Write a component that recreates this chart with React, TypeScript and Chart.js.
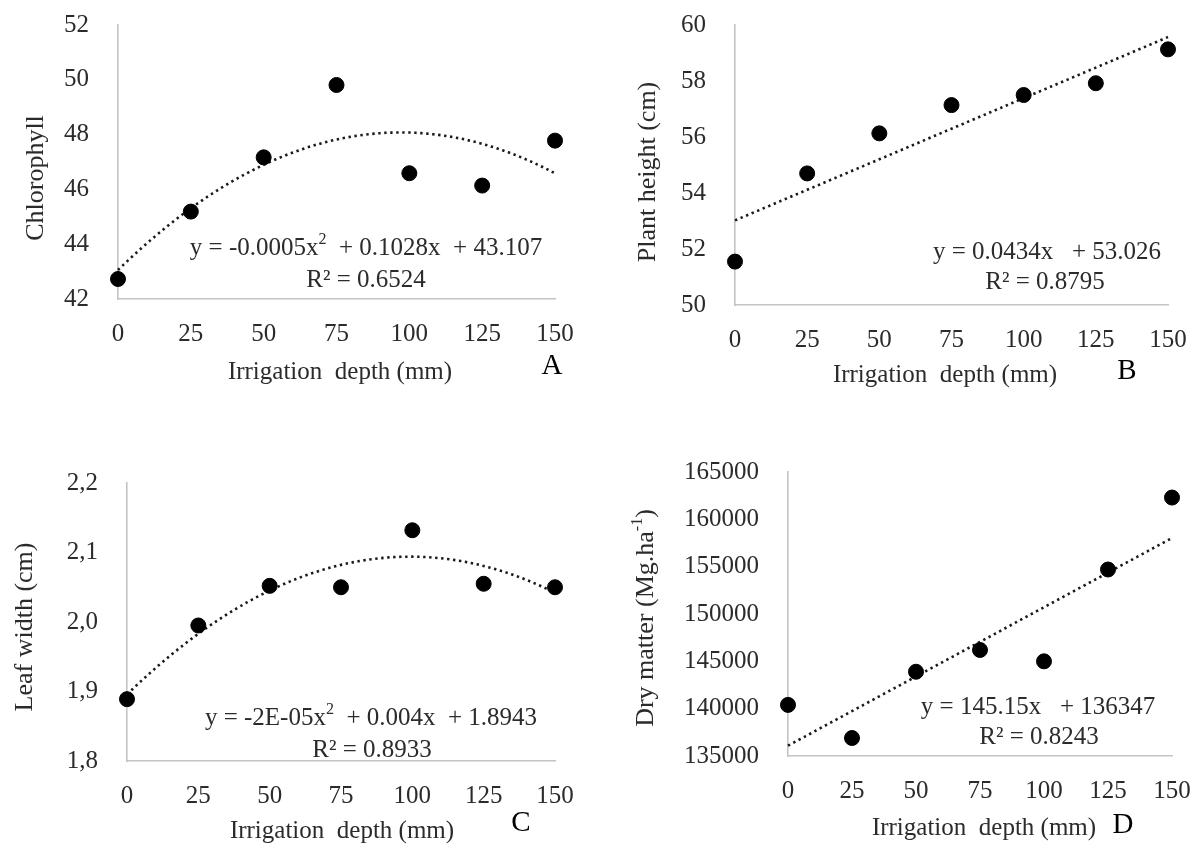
import React, { useEffect, useRef } from "react";
import { Chart, registerables } from "chart.js";

Chart.register(...registerables);

// ---------------- data ----------------
const depths = [0, 25, 50, 75, 100, 125, 150];
const xTicks = [0, 25, 50, 75, 100, 125, 150];

const chlorophyll = [42.73, 45.19, 47.17, 49.81, 46.59, 46.14, 47.78];
const plantHeight = [51.55, 54.7, 56.13, 57.14, 57.5, 57.92, 59.13];
const leafWidth = [1.889, 1.995, 2.052, 2.05, 2.132, 2.055, 2.05];
const dryMatter = [140400, 136900, 143900, 146200, 145000, 154700, 162300];

const yTicksA = [42, 44, 46, 48, 50, 52];
const yTicksB = [50, 52, 54, 56, 58, 60];
const yTicksC = [1.8, 1.9, 2.0, 2.1, 2.2];
const yTicksD = [135000, 140000, 145000, 150000, 155000, 160000, 165000];

const xTitle = "Irrigation  depth (mm)";
const yTitles = ["Chlorophyll", "Plant height (cm)", "Leaf width (cm)", "Dry matter (Mg.ha^{-1})"];
const letters = ["A", "B", "C", "D"];
const equations = [
  "y = -0.0005x^{2}  + 0.1028x  + 43.107",
  "y = 0.0434x   + 53.026",
  "y = -2E-05x^{2}  + 0.004x  + 1.8943",
  "y = 145.15x   + 136347",
];
const rSquared = ["R² = 0.6524", "R² = 0.8795", "R² = 0.8933", "R² = 0.8243"];
const trendDegrees = [2, 1, 2, 1];

// ---------------- helpers ----------------
const FONT = '"Liberation Serif", "Times New Roman", serif';

function polyFit(xs: number[], ys: number[], deg: number): number[] {
  const n = deg + 1;
  const A: number[][] = Array.from({ length: n }, () => new Array(n + 1).fill(0));
  for (let i = 0; i < xs.length; i++) {
    for (let r = 0; r < n; r++) {
      for (let c = 0; c < n; c++) A[r][c] += Math.pow(xs[i], r + c);
      A[r][n] += ys[i] * Math.pow(xs[i], r);
    }
  }
  for (let col = 0; col < n; col++) {
    let piv = col;
    for (let r = col + 1; r < n; r++) if (Math.abs(A[r][col]) > Math.abs(A[piv][col])) piv = r;
    [A[col], A[piv]] = [A[piv], A[col]];
    for (let r = 0; r < n; r++) {
      if (r === col) continue;
      const f = A[r][col] / A[col][col];
      for (let c = col; c <= n; c++) A[r][c] -= f * A[col][c];
    }
  }
  return A.map((row, i) => row[n] / A[i][i]);
}

function parseRich(s: string) {
  const parts: { t: string; sup: boolean }[] = [];
  const re = /\^\{([^}]*)\}/g;
  let last = 0;
  let m: RegExpExecArray | null;
  while ((m = re.exec(s))) {
    if (m.index > last) parts.push({ t: s.slice(last, m.index), sup: false });
    parts.push({ t: m[1], sup: true });
    last = re.lastIndex;
  }
  if (last < s.length) parts.push({ t: s.slice(last), sup: false });
  return parts;
}

function drawRich(
  ctx: CanvasRenderingContext2D,
  s: string,
  x: number,
  y: number,
  size: number,
  color: string,
  rotate = false
) {
  const parts = parseRich(s);
  const fN = `${size}px ${FONT}`;
  const fS = `${Math.round(size * 0.62)}px ${FONT}`;
  let w = 0;
  for (const p of parts) {
    ctx.font = p.sup ? fS : fN;
    w += ctx.measureText(p.t).width;
  }
  ctx.save();
  ctx.translate(x, y);
  if (rotate) ctx.rotate(-Math.PI / 2);
  ctx.fillStyle = color;
  ctx.textBaseline = "middle";
  ctx.textAlign = "left";
  let cx = -w / 2;
  for (const p of parts) {
    ctx.font = p.sup ? fS : fN;
    ctx.fillText(p.t, cx, p.sup ? -size * 0.33 : 0);
    cx += ctx.measureText(p.t).width;
  }
  ctx.restore();
}

// ---------------- layout (page coordinates) ----------------
type Panel = {
  box: { left: number; top: number; w: number; h: number };
  area: { l: number; t: number; r: number; b: number };
  values: number[];
  yTicks: number[];
  fmt: (v: number) => string;
  yTitlePos: [number, number];
  xTitlePos: [number, number];
  letterPos: [number, number];
  eqPos: [number, number];
  r2Pos: [number, number];
};

const panels: Panel[] = [
  {
    box: { left: 0, top: 0, w: 598, h: 410 },
    area: { l: 118, t: 25, r: 555, b: 299 },
    values: chlorophyll,
    yTicks: yTicksA,
    fmt: (v) => String(v),
    yTitlePos: [36, 178],
    xTitlePos: [340, 372],
    letterPos: [552, 366],
    eqPos: [366, 248],
    r2Pos: [366, 280],
  },
  {
    box: { left: 598, top: 0, w: 598, h: 410 },
    area: { l: 735, t: 25, r: 1168, b: 305 },
    values: plantHeight,
    yTicks: yTicksB,
    fmt: (v) => String(v),
    yTitlePos: [648, 172],
    xTitlePos: [945, 375],
    letterPos: [1127, 371],
    eqPos: [1047, 252],
    r2Pos: [1045, 282],
  },
  {
    box: { left: 0, top: 420, w: 598, h: 425 },
    area: { l: 127, t: 483, r: 555, b: 761 },
    values: leafWidth,
    yTicks: yTicksC,
    fmt: (v) => v.toFixed(1).replace(".", ","),
    yTitlePos: [25, 627],
    xTitlePos: [342, 831],
    letterPos: [521, 823],
    eqPos: [371, 718],
    r2Pos: [372, 750],
  },
  {
    box: { left: 598, top: 420, w: 598, h: 425 },
    area: { l: 788, t: 472, r: 1172, b: 756 },
    values: dryMatter,
    yTicks: yTicksD,
    fmt: (v) => String(v),
    yTitlePos: [646, 618],
    xTitlePos: [984, 828],
    letterPos: [1123, 825],
    eqPos: [1038, 707],
    r2Pos: [1039, 737],
  },
];

const AXIS_COLOR = "#c4c4c4";
const TEXT_COLOR = "#2b2b2b";
const FS = 25;

function PanelChart({ idx }: { idx: number }) {
  const ref = useRef<HTMLCanvasElement | null>(null);
  const p = panels[idx];

  useEffect(() => {
    if (!ref.current) return;
    const coef = polyFit(depths, p.values, trendDegrees[idx]);
    const trend: { x: number; y: number }[] = [];
    for (let x = depths[0]; x <= depths[depths.length - 1]; x += 1) {
      let y = 0;
      for (let k = 0; k < coef.length; k++) y += coef[k] * Math.pow(x, k);
      trend.push({ x, y });
    }
    const ox = p.box.left;
    const oy = p.box.top;
    const yWidth = p.area.l - ox;
    const xHeight = oy + p.box.h - p.area.b;

    const textPlugin = {
      id: "panelText" + idx,
      afterDraw(chart: any) {
        const ctx = chart.ctx as CanvasRenderingContext2D;
        drawRich(ctx, yTitles[idx], p.yTitlePos[0] - ox, p.yTitlePos[1] - oy, FS + 1, TEXT_COLOR, true);
        drawRich(ctx, xTitle, p.xTitlePos[0] - ox, p.xTitlePos[1] - oy, FS, TEXT_COLOR);
        drawRich(ctx, letters[idx], p.letterPos[0] - ox, p.letterPos[1] - oy, 29, "#000");
        drawRich(ctx, equations[idx], p.eqPos[0] - ox, p.eqPos[1] - oy, FS, TEXT_COLOR);
        drawRich(ctx, rSquared[idx], p.r2Pos[0] - ox, p.r2Pos[1] - oy, FS, TEXT_COLOR);
      },
    };

    const chart = new Chart(ref.current, {
      type: "scatter",
      data: {
        datasets: [
          {
            data: depths.map((x, i) => ({ x, y: p.values[i] })),
            backgroundColor: "#000",
            borderColor: "#000",
            pointRadius: 7.5,
            pointHoverRadius: 7.5,
            showLine: false,
            clip: false,
          } as any,
          {
            data: trend,
            showLine: true,
            borderColor: "#1a1a1a",
            borderWidth: 2.6,
            borderDash: [2.4, 3.6],
            pointRadius: 0,
            fill: false,
            clip: false,
          } as any,
        ],
      },
      options: {
        responsive: false,
        animation: false,
        events: [],
        layout: {
          padding: {
            left: 0,
            bottom: 0,
            top: p.area.t - oy,
            right: ox + p.box.w - p.area.r,
          },
        },
        plugins: { legend: { display: false }, tooltip: { enabled: false } },
        scales: {
          x: {
            type: "linear",
            min: xTicks[0],
            max: xTicks[xTicks.length - 1],
            grid: { display: false },
            border: { display: true, color: AXIS_COLOR, width: 1.6 },
            ticks: {
              font: { family: FONT, size: FS },
              color: TEXT_COLOR,
              padding: 12,
              maxRotation: 0,
              autoSkip: false,
              callback: (v: any) => String(v),
            },
            afterBuildTicks: (s: any) => {
              s.ticks = xTicks.map((v) => ({ value: v }));
            },
            afterFit: (s: any) => {
              s.height = xHeight;
              s.paddingLeft = 0;
              s.paddingRight = 0;
            },
          },
          y: {
            type: "linear",
            min: p.yTicks[0],
            max: p.yTicks[p.yTicks.length - 1],
            grid: { display: false },
            border: { display: true, color: AXIS_COLOR, width: 1.6 },
            ticks: {
              font: { family: FONT, size: FS },
              color: TEXT_COLOR,
              padding: 21,
              autoSkip: false,
              callback: (v: any) => p.fmt(Number(v)),
            },
            afterBuildTicks: (s: any) => {
              s.ticks = p.yTicks.map((v) => ({ value: v }));
            },
            afterFit: (s: any) => {
              s.width = yWidth;
              s.paddingTop = 0;
              s.paddingBottom = 0;
            },
          },
        },
      } as any,
      plugins: [textPlugin],
    });
    return () => chart.destroy();
  }, [idx]);

  return (
    <canvas
      ref={ref}
      width={p.box.w}
      height={p.box.h}
      style={{
        position: "absolute",
        left: p.box.left,
        top: p.box.top,
        width: p.box.w,
        height: p.box.h,
      }}
    />
  );
}

export default function App() {
  return (
    <div
      style={{
        position: "absolute",
        left: 0,
        top: 0,
        width: 1196,
        height: 845,
        background: "#fff",
        overflow: "hidden",
      }}
    >
      {panels.map((_, i) => (
        <PanelChart key={i} idx={i} />
      ))}
    </div>
  );
}
